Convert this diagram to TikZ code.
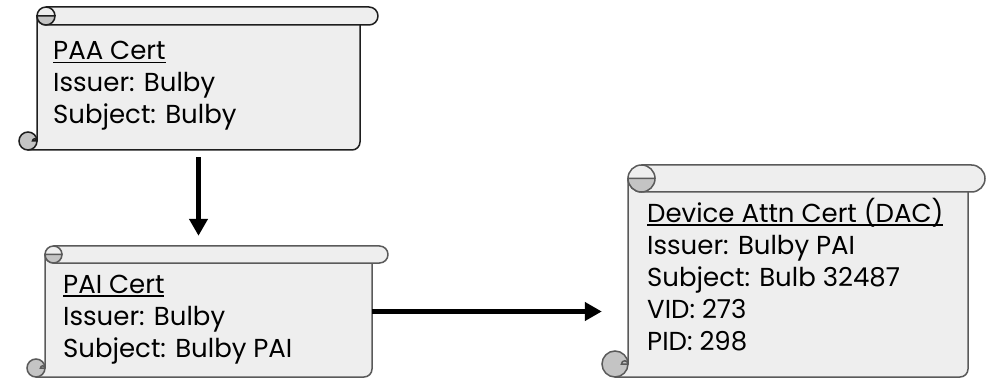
\documentclass[tikz,border=0pt]{standalone}
\usepackage{fontspec}
\setmainfont{Poppins}
\usetikzlibrary{arrows.meta,positioning,fit,calc}
\definecolor{scrollfill}{HTML}{EEEEEE}
\definecolor{rollgray}{HTML}{C4C4C4}
\definecolor{edgedark}{HTML}{1E1E1E}
\definecolor{edgegray}{HTML}{5A5A5A}
\newcommand\titleline[1]{\setbox0\hbox{#1}\rlap{\rule[-3.5pt]{\wd0}{1.2pt}}\box0}
% scroll outline: left, top, right, bottom, bar height, curl radius, bar overhang, edge colour
\newcommand\scrollframe[8]{%
  \path[scrollpart, draw=#8] (#1,{#2+#5/2}) -- (#3,{#2+#5/2}) -- (#3,{#4-8})
    arc[start angle=0, end angle=90, radius=8] -- ({#1-#6},#4) -- (#1,{#4-#6}) -- cycle;
  \path[scrollpart, draw=#8] ({#1+#5/2},#2) -- ({#3+#7-#5/2},#2)
    arc[start angle=-90, end angle=90, radius=#5/2] -- ({#1+#5/2},{#2+#5})
    arc[start angle=90, end angle=270, radius=#5/2] -- cycle;
  \path[rollpart, draw=#8] (#1,{#2+#5/2}) arc[start angle=180, end angle=0, radius=#5/2] -- cycle;
  \draw[#8, line width=1.5pt] ({#1+#5},{#2+#5/2}) arc[start angle=0, end angle=-90, radius=#5/2];
  \path[rollpart, draw=#8] ({#1-#6},{#4-#6}) circle[radius=#6];
  \draw[#8, line width=1.5pt] (#1,{#4-#6}) -- ({#1-#6/2},{#4-#6})
    arc[start angle=180, end angle=360, radius=#6/4];
}

\begin{document}
\begin{tikzpicture}[x=1pt, y=-1pt,
    scrollpart/.style={fill=scrollfill, line width=1.5pt, line join=round},
    rollpart/.style={fill=rollgray, line width=1.5pt},
    certtext/.style={align=left, inner sep=0pt, font=\fontsize{26}{32}\selectfont},
    link/.style={line width=5pt, -{Triangle[width=18pt,length=17pt]}}]
  \useasboundingbox (0,0) rectangle (987,379);

  % the three certificates (anchored on the baseline of the last line)
  \scrollframe{37}{7}{360}{150}{18}{9}{18}{edgedark}
  \node[fit={(37,7) (360,150)}, inner sep=0pt] (paa) {};
  \node[certtext, anchor=base west] (paatext) at (53,124)
    {\titleline{PAA Cert}\\Issuer: Bulby\\Subject: Bulby};

  \scrollframe{45}{246}{372}{377}{17}{9}{16}{edgegray}
  \node[fit={(45,246) (372,377)}, inner sep=0pt] (pai) {};
  \node[certtext, anchor=base west] (paitext) at (63,357)
    {\titleline{PAI Cert}\\Issuer: Bulby\\Subject: Bulby PAI};

  \scrollframe{628}{165}{968}{377}{27}{13}{17}{edgegray}
  \node[fit={(628,165) (968,377)}, inner sep=0pt] (dac) {};
  \node[certtext, anchor=base west] (dactext) at (647,350)
    {\titleline{Device Attn Cert (DAC)}\\Issuer: Bulby PAI\\Subject: Bulb 32487\\VID: 273\\PID: 298};

  % chain of trust
  \draw[link, shorten <=7pt, shorten >=10pt] (paa.south) -- (paa.south |- pai.north);
  \draw[link, shorten >=26pt] (pai.east) -- (pai.east -| dac.west);
\end{tikzpicture}
\end{document}
